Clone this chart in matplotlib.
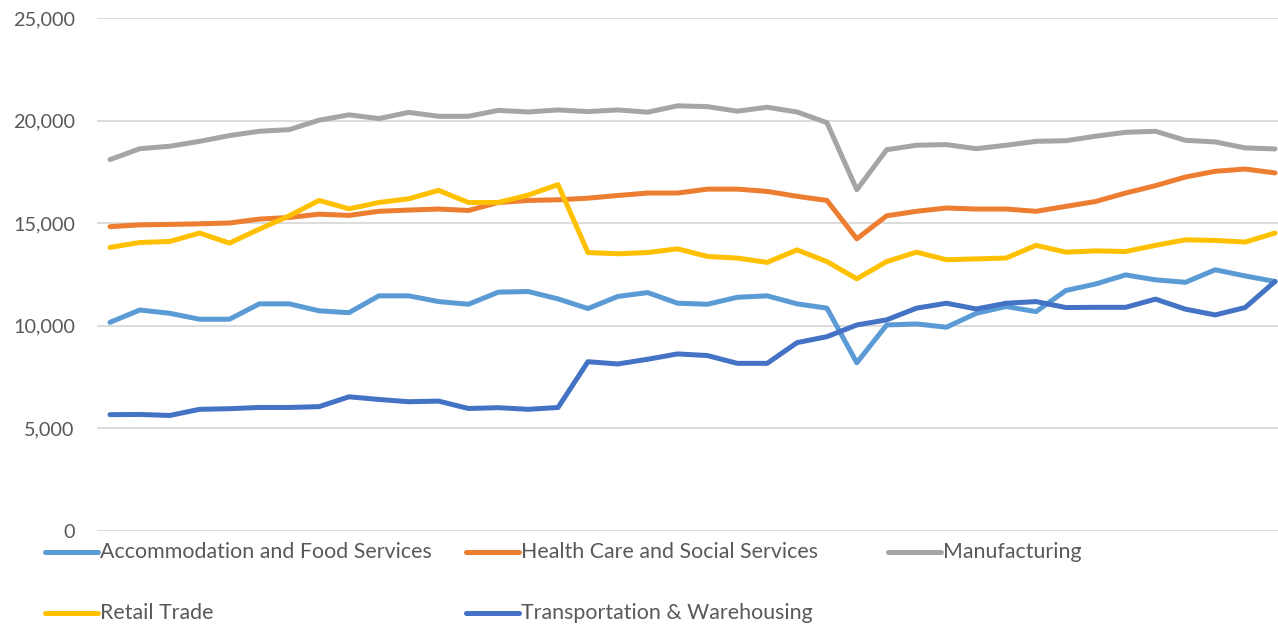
import matplotlib
matplotlib.use("Agg")
import matplotlib.pyplot as plt
from matplotlib.lines import Line2D

plt.rcParams['font.family'] = ['Lato', 'DejaVu Sans']

series_names = [
    "Accommodation and Food Services",
    "Health Care and Social Services",
    "Manufacturing",
    "Retail Trade",
    "Transportation & Warehousing",
]
series_colors = ["#5B9BD5", "#ED7D31", "#A5A5A5", "#FFC000", "#4472C4"]

accommodation = [10170, 10770, 10610, 10320, 10320, 11070, 11070, 10730, 10640, 11460,
                 11460, 11180, 11050, 11640, 11670, 11310, 10840, 11430, 11620, 11100,
                 11050, 11390, 11460, 11070, 10860, 8200, 10040, 10090, 9930, 10610,
                 10940, 10690, 11720, 12040, 12480, 12240, 12120, 12730, 12430, 12160]
health = [14830, 14920, 14940, 14970, 15010, 15200, 15280, 15440, 15380, 15580,
          15640, 15690, 15620, 16010, 16110, 16140, 16220, 16350, 16470, 16470,
          16660, 16660, 16550, 16310, 16110, 14240, 15360, 15580, 15740, 15690,
          15690, 15580, 15820, 16060, 16470, 16830, 17250, 17530, 17640, 17450]
manufacturing = [18100, 18630, 18750, 18990, 19270, 19480, 19560, 20020, 20280, 20100,
                 20400, 20210, 20210, 20500, 20420, 20520, 20440, 20520, 20410, 20720,
                 20680, 20460, 20650, 20420, 19900, 16630, 18580, 18800, 18830, 18630,
                 18800, 18990, 19020, 19240, 19430, 19480, 19040, 18960, 18670, 18620]
retail = [13820, 14060, 14110, 14520, 14030, 14710, 15360, 16110, 15700, 16010,
          16190, 16600, 16010, 16010, 16370, 16880, 13570, 13510, 13570, 13750,
          13380, 13300, 13090, 13700, 13130, 12290, 13130, 13590, 13220, 13260,
          13300, 13920, 13590, 13650, 13620, 13920, 14190, 14160, 14080, 14520]
transportation = [5670, 5680, 5630, 5930, 5960, 6020, 6020, 6060, 6540, 6410,
                  6300, 6330, 5970, 6010, 5930, 6020, 8250, 8140, 8370, 8630,
                  8550, 8170, 8170, 9180, 9470, 10040, 10290, 10860, 11100, 10820,
                  11100, 11180, 10890, 10900, 10900, 11300, 10810, 10530, 10890, 12160]

y_ticks = [0, 5000, 10000, 15000, 20000, 25000]
y_tick_labels = ["0", "5,000", "10,000", "15,000", "20,000", "25,000"]

all_series = [accommodation, health, manufacturing, retail, transportation]

W, H = 1278, 626
fig = plt.figure(figsize=(W / 100, H / 100), dpi=100)
ax = fig.add_axes([97 / W, (H - 531) / H, (1278 - 97) / W, (531 - 18) / H])

x = list(range(len(accommodation)))
for vals, col in zip(all_series, series_colors):
    ax.plot(x, vals, color=col, lw=3.6, solid_capstyle='round', solid_joinstyle='round',
            zorder=3)

ax.set_ylim(0, 25000)
ax.set_xlim(-0.435, 39.1)
ax.set_yticks(y_ticks)
ax.set_yticklabels(y_tick_labels)
ax.set_xticks([])
ax.grid(axis='y', color='#D9D9D9', lw=1.3)
ax.tick_params(axis='y', length=0, pad=16, labelsize=14.3, labelcolor='#595959')
for s in ax.spines.values():
    s.set_visible(False)

# legend, placed by hand to match the two-row layout
leg_pos = [(45, 552), (466, 552), (888, 552), (45, 613), (466, 613)]
for (lx, ly), name, col in zip(leg_pos, series_names, series_colors):
    yf = (H - ly) / H
    fig.add_artist(Line2D([lx / W, (lx + 53) / W], [yf, yf], color=col, lw=3.6,
                          solid_capstyle='round', transform=fig.transFigure))
    fig.text((lx + 55) / W, yf, name, fontsize=15.4, color='#595959', va='center', ha='left')

fig.savefig("out.png", dpi=100)
